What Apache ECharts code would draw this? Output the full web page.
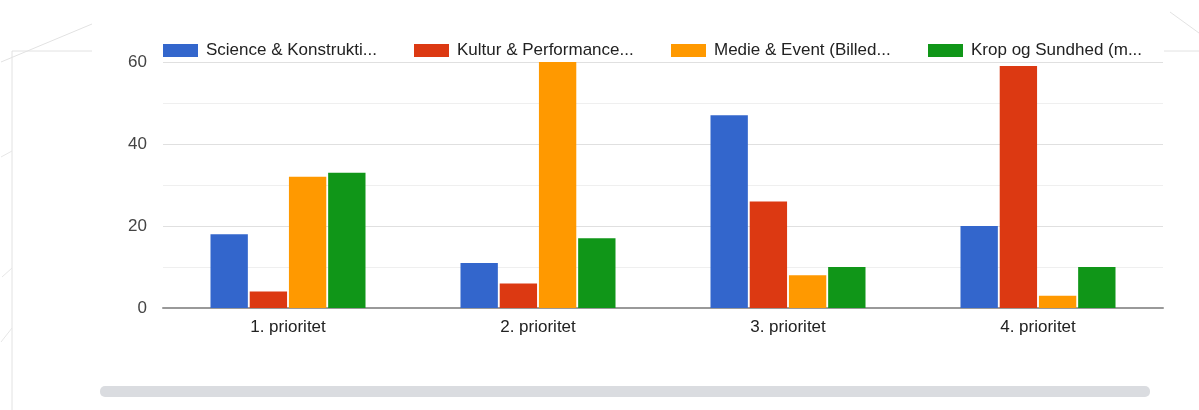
<!DOCTYPE html>
<html>
<head>
<meta charset="utf-8">
<script src="https://cdn.jsdelivr.net/npm/echarts@6/dist/echarts.min.js"></script>
<style>
  html, body { margin: 0; padding: 0; background: #fff; }
  #chart { width: 1199px; height: 410px; }
</style>
</head>
<body>
<div id="chart"></div>
<script>
// data
const categories = ["1. prioritet", "2. prioritet", "3. prioritet", "4. prioritet"];
const seriesNames = [
  "Science & Konstrukti...",
  "Kultur & Performance...",
  "Medie & Event (Billed...",
  "Krop og Sundhed (m..."
];
const science = [18, 11, 47, 20];
const kultur = [4, 6, 26, 59];
const medie = [32, 60, 8, 3];
const krop = [33, 17, 10, 10];
const colors = ["#3366cc", "#dc3912", "#ff9900", "#109618"];

const values = [science, kultur, medie, krop];
const legendLeft = [163, 414, 671, 928];

const chart = echarts.init(document.getElementById("chart"));

const option = {
  animation: false,
  textStyle: { fontFamily: "Liberation Sans, Arial, sans-serif" },
  grid: { left: 163, right: 36, top: 62, bottom: 102 },
  // one legend per item so each sits in its own fixed slot
  legend: seriesNames.map((name, i) => ({
    left: legendLeft[i],
    top: 42,
    padding: 0,
    itemWidth: 35,
    itemHeight: 13,
    icon: "rect",
    textStyle: { fontSize: 17, color: "#222", padding: [0, 0, 0, 3] },
    data: [name]
  })),
  xAxis: {
    type: "category",
    data: categories,
    axisTick: { show: false },
    axisLine: { lineStyle: { color: "#999", width: 2 } },
    axisLabel: { color: "#222", fontSize: 17, margin: 11 }
  },
  yAxis: {
    type: "value",
    min: 0,
    max: 60,
    interval: 20,
    axisLabel: { color: "#444", fontSize: 17, margin: 16 },
    splitLine: { lineStyle: { color: "#e0e0e0", width: 1 } },
    minorTick: { show: false, splitNumber: 2 },
    minorSplitLine: { show: true, lineStyle: { color: "#efefef", width: 1 } }
  },
  series: seriesNames.map((name, i) => ({
    name: name,
    type: "bar",
    data: values[i],
    barGap: "5%",
    barCategoryGap: "38%",
    itemStyle: { color: colors[i] }
  })),
  graphic: [
    { type: "line", shape: { x1: 12, y1: 51, x2: 12, y2: 410 }, style: { stroke: "#e2e2e2", lineWidth: 1 } },
    { type: "line", shape: { x1: 12, y1: 51, x2: 92, y2: 51 }, style: { stroke: "#e2e2e2", lineWidth: 1 } },
    { type: "line", shape: { x1: 1, y1: 62, x2: 92, y2: 24 }, style: { stroke: "#e2e2e2", lineWidth: 1 } },
    { type: "line", shape: { x1: 1164, y1: 51, x2: 1199, y2: 51 }, style: { stroke: "#e2e2e2", lineWidth: 1 } },
    { type: "line", shape: { x1: 1170, y1: 12, x2: 1199, y2: 33 }, style: { stroke: "#e2e2e2", lineWidth: 1 } },
    { type: "line", shape: { x1: 1, y1: 157, x2: 12, y2: 151 }, style: { stroke: "#e6e6e6", lineWidth: 1 } },
    { type: "line", shape: { x1: 2, y1: 277, x2: 12, y2: 268 }, style: { stroke: "#e6e6e6", lineWidth: 1 } },
    { type: "line", shape: { x1: 1, y1: 342, x2: 12, y2: 328 }, style: { stroke: "#e6e6e6", lineWidth: 1 } },
    { type: "rect", shape: { x: 100, y: 386, width: 1050, height: 11, r: 5 }, style: { fill: "#dadce0" } }
  ]
};

chart.setOption(option);
</script>
</body>
</html>
